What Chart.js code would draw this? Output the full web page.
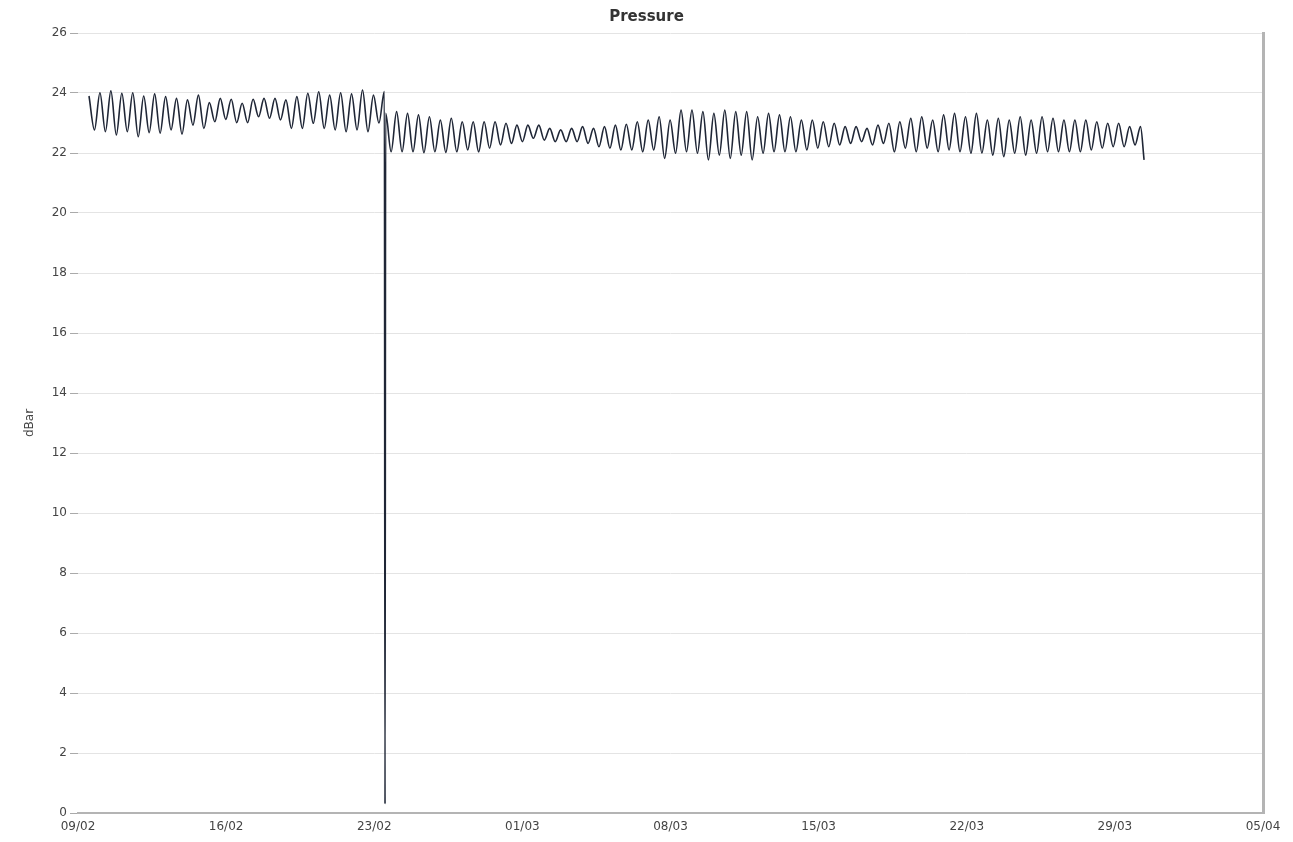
<!DOCTYPE html>
<html>
<head>
<meta charset="utf-8">
<title>Pressure</title>
<script src="https://cdn.jsdelivr.net/npm/chart.js@4.4.1/dist/chart.umd.min.js"></script>
<style>
  body { margin: 0; background: #fff; }
  #wrap { width: 1293px; height: 842px; }
</style>
</head>
<body>
<div id="wrap"><canvas id="myChart" width="1293" height="842"></canvas></div>
<script>

// x axis runs in days from 09/02 (leap year, so 23/02 + 7 = 01/03)
const tickLabels = ['09/02', '16/02', '23/02', '01/03', '08/03', '15/03', '22/03', '29/03', '05/04'];

// tide highs and lows, one every half tide (~6.2 h)
const firstDay = 0.52;
const halfTide = 0.2585;

// before the sensor was moved (starts on a high, ends on the high at the spike)
const preShift = [
  23.9, 22.77, 24.01, 22.71, 24.07, 22.6, 23.99, 22.71, 24.01, 22.54,
  23.9, 22.68, 23.97, 22.66, 23.88, 22.77, 23.82, 22.63, 23.77, 22.93,
  23.93, 22.82, 23.68, 23.04, 23.82, 23.12, 23.79, 23.01, 23.66, 23.01,
  23.79, 23.21, 23.82, 23.16, 23.82, 23.1, 23.77, 22.82, 23.88, 22.82,
  23.99, 22.99, 24.04, 22.82, 23.93, 22.77, 24.01, 22.71, 23.97, 22.77,
  24.1, 22.71, 23.93, 23.0, 24.05
];

// the drop on 23/02
const spikeLow = 0.3;

// after the drop
const postShift = [
  23.32, 22.04, 23.38, 22.04, 23.32, 22.04, 23.27, 22.01, 23.21, 22.04,
  23.1, 22.02, 23.16, 22.04, 23.04, 22.1, 23.04, 22.04, 23.04, 22.16,
  23.04, 22.27, 22.99, 22.32, 22.93, 22.38, 22.93, 22.49, 22.93, 22.43,
  22.82, 22.38, 22.77, 22.38, 22.82, 22.38, 22.88, 22.32, 22.82, 22.21,
  22.88, 22.16, 22.93, 22.1, 22.96, 22.1, 23.04, 22.04, 23.1, 22.1,
  23.21, 21.82, 23.1, 21.99, 23.43, 22.04, 23.43, 21.99, 23.38, 21.77,
  23.32, 21.93, 23.43, 21.82, 23.38, 21.93, 23.38, 21.77, 23.21, 21.99,
  23.32, 22.04, 23.27, 22.04, 23.21, 22.04, 23.1, 22.1, 23.1, 22.16,
  23.04, 22.21, 22.99, 22.27, 22.88, 22.32, 22.88, 22.38, 22.82, 22.27,
  22.93, 22.32, 22.99, 22.04, 23.04, 22.16, 23.16, 22.04, 23.21, 22.16,
  23.1, 22.04, 23.27, 22.1, 23.32, 22.04, 23.21, 21.99, 23.32, 22.0,
  23.1, 21.93, 23.16, 21.88, 23.1, 21.99, 23.21, 21.93, 23.1, 21.99,
  23.21, 22.04, 23.16, 22.04, 23.1, 22.04, 23.1, 22.04, 23.1, 22.1,
  23.04, 22.16, 22.99, 22.21, 22.99, 22.21, 22.88, 22.27, 22.88
];

const lastDay = 50.38;
const lastReading = 21.77;


window.onload = () => {
  drawPressure()
}


function buildPoints() {
  let pts = [];
  preShift.forEach((v, i) => pts.push({ x: firstDay + i * halfTide, y: v }));

  let k0 = preShift.length - 1;
  pts.push({ x: firstDay + k0 * halfTide + 0.03, y: spikeLow });

  postShift.forEach((v, j) => pts.push({ x: firstDay + (k0 + j) * halfTide + 0.06, y: v }));

  pts.push({ x: lastDay, y: lastReading });
  return pts;
}


function drawPressure() {
  Chart.defaults.font.family = "'DejaVu Sans', Verdana, sans-serif";
  Chart.defaults.font.size = 12;
  Chart.defaults.color = '#444';

  const ctx = document.getElementById('myChart');

  new Chart(ctx, {
    type: 'line',
    data: {
      datasets: [{
        label: 'Pressure',
        data: buildPoints(),
        borderColor: '#1f2636',
        borderWidth: 1.6,
        pointRadius: 0,
        cubicInterpolationMode: 'monotone',
        fill: false
      }]
    },
    options: {
      responsive: false,
      animation: false,
      layout: { padding: 0 },
      plugins: {
        legend: { display: false },
        tooltip: { enabled: false },
        title: {
          display: true,
          text: 'Pressure',
          color: '#333',
          font: { size: 15, weight: 'bold' },
          padding: { top: 8, bottom: 7 }
        }
      },
      scales: {
        x: {
          type: 'linear',
          min: 0,
          max: 56,
          grid: { display: false, drawTicks: false },
          border: { display: true, color: '#b4b4b4', width: 2 },
          ticks: {
            stepSize: 7,
            padding: 7,
            maxRotation: 0,
            autoSkip: false,
            color: '#444',
            callback: (v) => tickLabels[Math.round(v / 7)]
          },
          afterFit: (s) => { s.height = 29 }
        },
        y: {
          min: 0,
          max: 26,
          grid: { color: '#e4e4e4', tickLength: 8, tickColor: '#aaa' },
          border: { display: false },
          ticks: { stepSize: 2, padding: 3, color: '#444' },
          title: {
            display: true,
            text: 'dBar',
            color: '#444',
            font: { size: 12 },
            padding: { top: 23, bottom: 0 }
          },
          afterFit: (s) => { s.width = 78 }
        },
        y2: {
          position: 'right',
          min: 0,
          max: 26,
          grid: { drawOnChartArea: false, drawTicks: false },
          border: { display: true, color: '#b4b4b4', width: 3 },
          ticks: { display: false },
          afterFit: (s) => { s.width = 30 }
        }
      }
    }
  });
}

</script>
</body>
</html>
